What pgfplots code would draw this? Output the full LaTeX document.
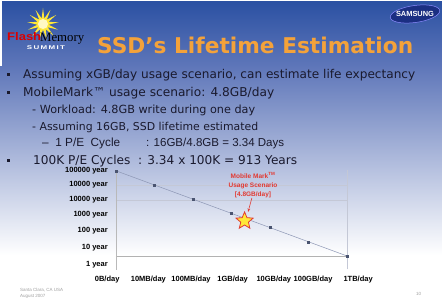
\documentclass[border=0pt]{standalone}
\usepackage{graphicx}
\usepackage{pgfplots}
\pgfplotsset{compat=1.18}
\usepackage{fontspec}
\setmainfont{DejaVu Sans}
\newfontfamily\arial{Liberation Sans}
\newfontfamily\serif{Liberation Serif}
\usetikzlibrary{shapes.geometric,arrows.meta}

\definecolor{hdrtop}{HTML}{2A50A2}
\definecolor{hdrbot}{HTML}{5E76B9}
\definecolor{titleor}{HTML}{F4A23A}
\definecolor{txt}{HTML}{1A1A2E}
\definecolor{linec}{HTML}{8C96B4}
\definecolor{markc}{HTML}{4A5470}
\definecolor{annred}{HTML}{E23A32}
\definecolor{gridc}{HTML}{C4C8D6}
\definecolor{samsung}{HTML}{1B2F82}
\definecolor{staryel}{HTML}{FFE838}

\pgfdeclareplotmark{fivestar}{%
  \pgfpathmoveto{\pgfpointpolar{90}{\pgfplotmarksize}}%
  \pgfpathlineto{\pgfpointpolar{126}{0.45\pgfplotmarksize}}%
  \pgfpathlineto{\pgfpointpolar{162}{\pgfplotmarksize}}%
  \pgfpathlineto{\pgfpointpolar{198}{0.45\pgfplotmarksize}}%
  \pgfpathlineto{\pgfpointpolar{234}{\pgfplotmarksize}}%
  \pgfpathlineto{\pgfpointpolar{270}{0.45\pgfplotmarksize}}%
  \pgfpathlineto{\pgfpointpolar{306}{\pgfplotmarksize}}%
  \pgfpathlineto{\pgfpointpolar{342}{0.45\pgfplotmarksize}}%
  \pgfpathlineto{\pgfpointpolar{18}{\pgfplotmarksize}}%
  \pgfpathlineto{\pgfpointpolar{54}{0.45\pgfplotmarksize}}%
  \pgfpathclose
  \pgfusepathqfillstroke}

\begin{document}
\begin{tikzpicture}
\begin{scope}[x=1pt,y=-1pt,yshift=307pt]
  % background
  \shade[top color=hdrtop, bottom color=hdrbot] (0,0) rectangle (442,66);
  \shade[top color=hdrbot, bottom color=white] (0,66) rectangle (442,255);
  \fill[white] (0,255) rectangle (442,307);
  \fill[white] (0,0) rectangle (442,1.2);
  \fill[white] (0,0) rectangle (1.5,66);
  % logo
  \node[star, star points=13, star point ratio=2.8, fill=staryel, draw=none,
        minimum size=32pt, inner sep=0pt] at (43,24) {};
  \fill[white!70!staryel] (43,24) circle (5);
  \node[anchor=base west, inner sep=0pt, text=red!85!black] at (7,41)
     {\resizebox{34pt}{8pt}{\arial\bfseries Flash}};
  \node[anchor=base west, inner sep=0pt, text=black] at (40,42)
     {\resizebox{44pt}{!}{\serif Memory}};
  \node[anchor=base, inner sep=0pt, text=white] at (46,50)
     {\resizebox{38pt}{3.8pt}{\arial\bfseries S\,U\,M\,M\,I\,T}};
  % samsung
  \begin{scope}[shift={(415,14)}, rotate=8]
    \fill[samsung] (0,0) ellipse (25 and 8.5);
    \draw[white!55!blue, line width=0.5pt] (0,0) ellipse (25 and 8.5);
  \end{scope}
  \node[anchor=center, inner sep=0pt, text=white] at (415,14)
     {\resizebox{38pt}{!}{\arial\bfseries SAMSUNG}};
  % title
  \node[anchor=base west, inner sep=0pt, text=titleor] at (97,54)
     {\resizebox{316pt}{!}{\bfseries SSD’s Lifetime Estimation}};
  % bullets
  \fill[txt] (7,73.5) rectangle (10,76.5);
  \fill[txt] (7,91.5) rectangle (10,94.5);
  \fill[txt] (7,159.5) rectangle (10,162.5);
  \node[anchor=base west, inner sep=0pt, text=txt] at (23,79)
     {\resizebox{392pt}{!}{Assuming xGB/day usage scenario, can estimate life expectancy}};
  \node[anchor=base west, inner sep=0pt, text=txt] at (23,97)
     {\resizebox{251pt}{!}{MobileMark™ usage scenario: 4.8GB/day}};
  \node[anchor=base west, inner sep=0pt, text=txt] at (32,114)
     {\resizebox{223pt}{!}{- Workload: 4.8GB write during one day}};
  \node[anchor=base west, inner sep=0pt, text=txt] at (32,131)
     {\resizebox{226pt}{!}{- Assuming 16GB, SSD lifetime estimated}};
  \node[anchor=base west, inner sep=0pt, text=txt] at (42,146.5)
     {\resizebox{78pt}{!}{\arial –\ \ 1 P/E\ \ Cycle}};
  \node[anchor=base west, inner sep=0pt, text=txt] at (146,146.5)
     {\resizebox{138pt}{!}{\arial : 16GB/4.8GB = 3.34 Days}};
  \node[anchor=base west, inner sep=0pt, text=txt] at (33,165)
     {\resizebox{264pt}{!}{100K P/E Cycles\ \ : 3.34 x 100K = 913 Years}};
  % footer
  \node[anchor=base west, inner sep=0pt, text=gray!75,
        font=\arial\fontsize{4.5}{5}\selectfont] at (20,291.5) {Santa Clara, CA USA};
  \node[anchor=base west, inner sep=0pt, text=gray!75,
        font=\arial\fontsize{4.5}{5}\selectfont] at (20,297.5) {August 2007};
  \node[anchor=base west, inner sep=0pt, text=gray!75,
        font=\arial\fontsize{4.5}{5}\selectfont] at (416,296) {10};
\end{scope}

\begin{axis}[
  at={(104.45pt,37pt)}, anchor=south west,
  scale only axis, width=256pt, height=100pt,
  xmin=-0.3, xmax=6.35,
  ymode=log, ymin=0.45, ymax=5e6,
  axis line style={draw=none},
  major tick length=0pt, minor tick num=0,
  xtick={-0.23,0.84,1.95,3.03,4.10,5.12,6.29},
  xticklabels={0B/day,10MB/day,100MB/day,1GB/day,10GB/day,100GB/day,1TB/day},
  ytick={1,16,250,3400,39000,440000,4300000},
  yticklabels={1 year,10 year,100 year,1000 year,10000 year,10000 year,100000 year},
  ticklabel style={font=\arial\bfseries\fontsize{7.5}{8}\selectfont, text=black},
  yticklabel style={inner sep=0pt, xshift=3.5pt, anchor=east},
  xticklabel style={inner sep=0pt, yshift=-5.5pt, anchor=north},
  clip=false,
]
  % frame and grid
  \draw[gridc, line width=0.5pt] (axis cs:0,440000) -- (axis cs:6,440000);
  \draw[gridc, line width=0.5pt] (axis cs:0,39000) -- (axis cs:6,39000);
  \draw[gray!60, line width=0.6pt] (axis cs:0,4.4) -- (axis cs:6,4.4);
  \draw[gray!55, line width=0.5pt] (axis cs:0,0.45) -- (axis cs:0,5e6);
  \draw[gridc, line width=0.5pt] (axis cs:6,0.5) -- (axis cs:6,5e6);
  % data
  \addplot[linec, line width=0.5pt, mark=square*, mark size=1pt,
           mark options={fill=markc, draw=markc}]
    coordinates {(0,4380000) (1,438000) (2,43800) (3,4383) (4,438) (5,43.8) (6,4.38)};
  \addplot[only marks, mark=fivestar, mark size=9pt,
           mark options={fill=staryel, draw=annred, line width=0.8pt}]
    coordinates {(3.34,1290)};
  % annotation
  \draw[annred, line width=0.6pt, -{Stealth[length=3.5pt]}]
    (axis cs:3.53,54000) -- (axis cs:3.43,5500);
  \node[text=annred, align=center, inner sep=0pt,
        font=\arial\bfseries\fontsize{6.5}{9}\selectfont]
    at (axis cs:3.56,440000) {Mobile Mark\textsuperscript{TM}\\Usage Scenario\\{[4.8GB/day]}};
\end{axis}
\pgfresetboundingbox
\useasboundingbox (0,0) rectangle (442pt,307pt);
\end{tikzpicture}
\end{document}
